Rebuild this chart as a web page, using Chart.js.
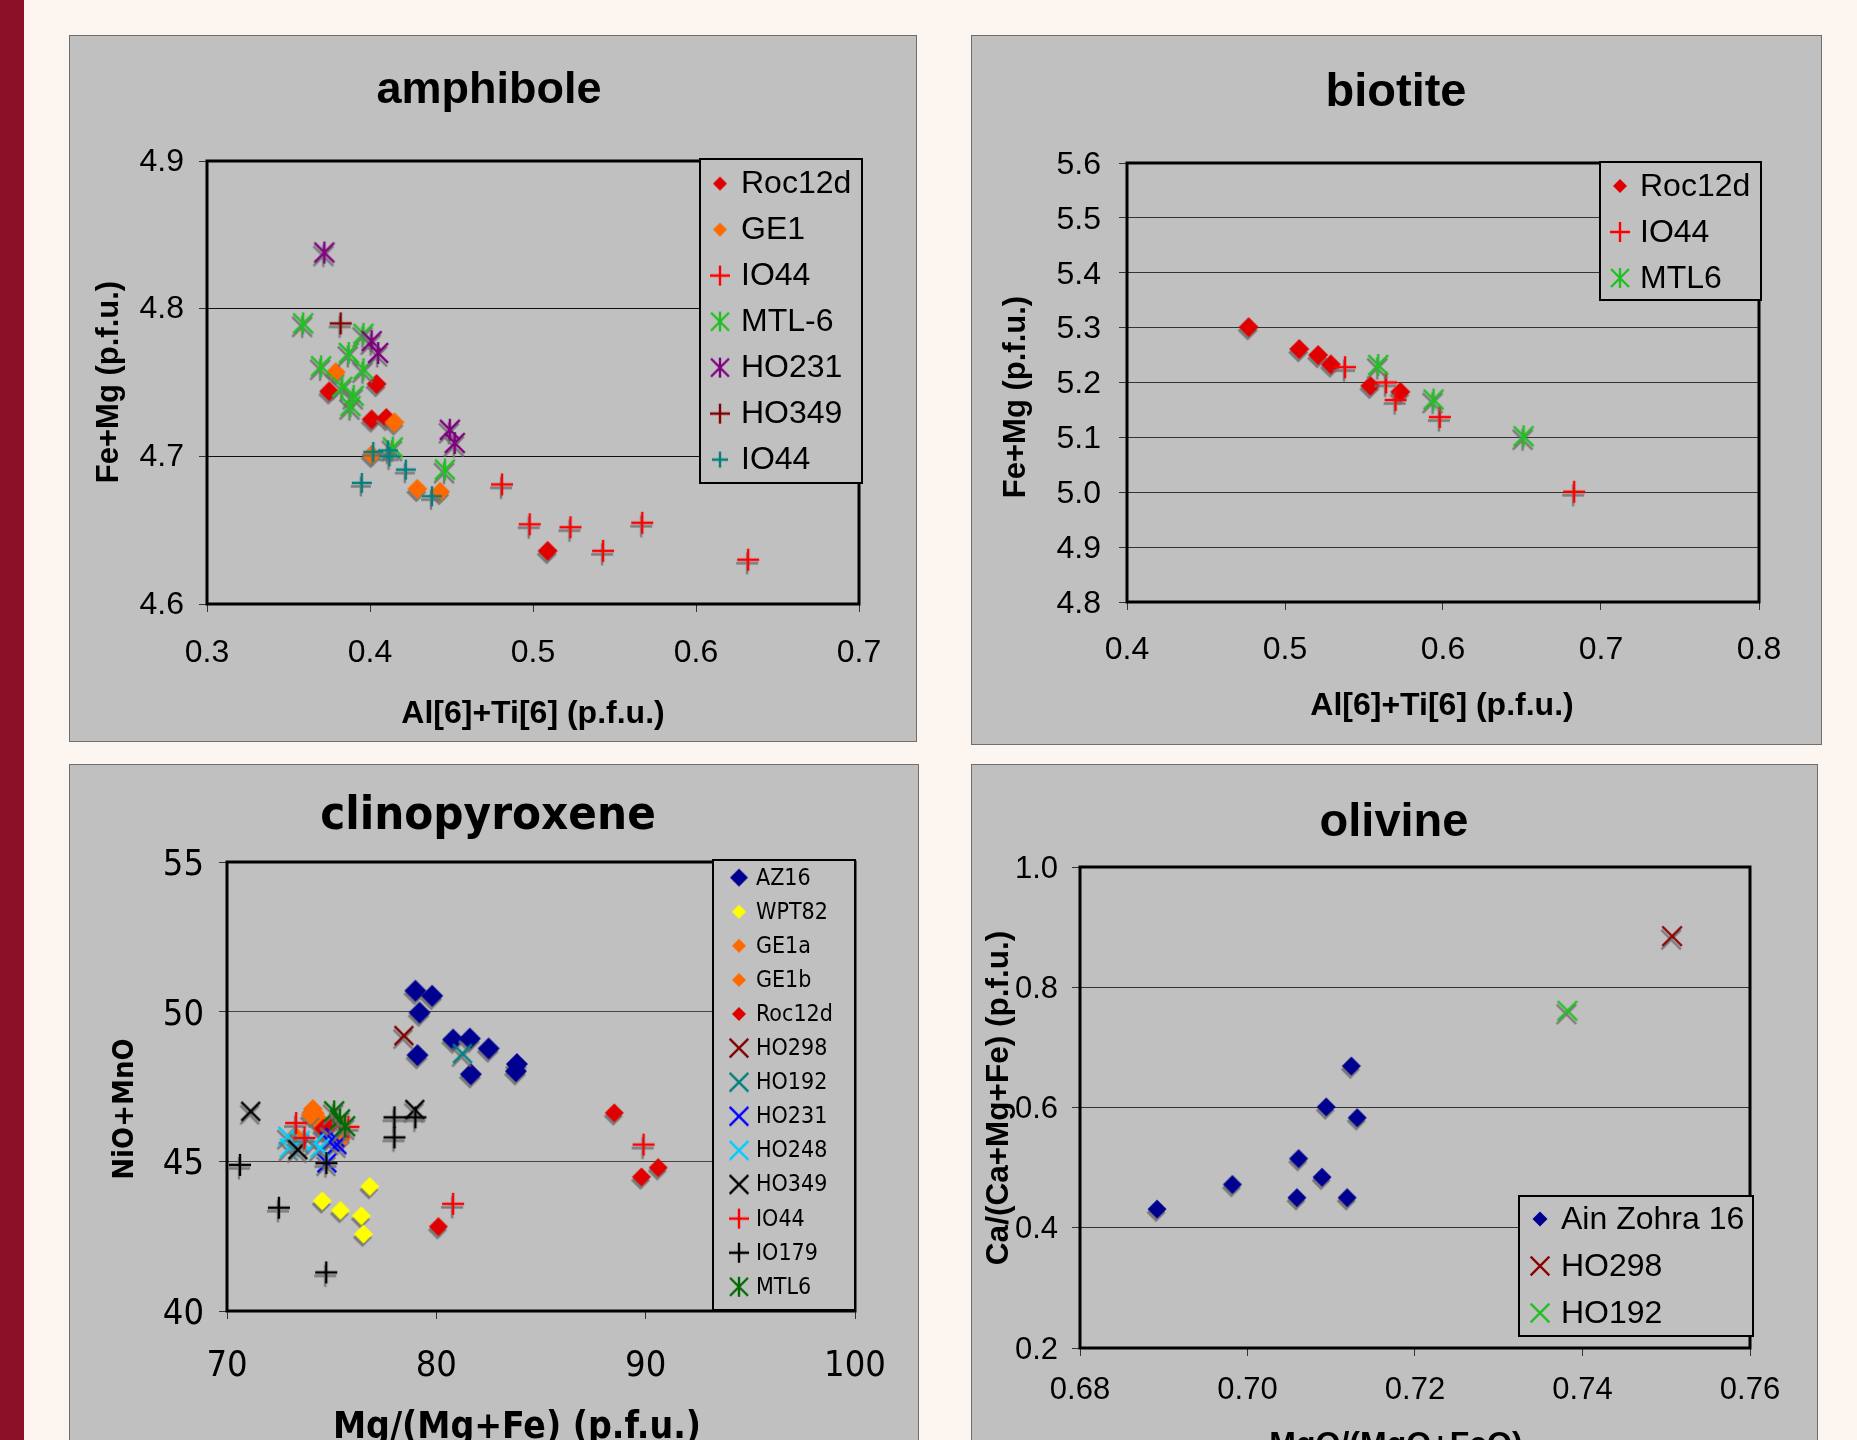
<!DOCTYPE html>
<html><head><meta charset="utf-8">
<script src="https://cdn.jsdelivr.net/npm/chart.js@4.4.1/dist/chart.umd.min.js"></script>
<style>
html,body{margin:0;padding:0;width:1857px;height:1440px;overflow:hidden;background:#fdf6f0;}
#bar{position:absolute;left:0;top:0;width:24px;height:1440px;background:#8b1028;}
.panel{position:absolute;background:#c0c0c0;outline:1px solid #6e6e6e;}
.panel canvas{position:absolute;left:0;top:0;}
</style></head><body>
<div id="bar"></div>
<div class="panel" style="left:70px;top:36px;width:846px;height:705px"><canvas id="cAmph" width="846" height="705"></canvas></div>
<div class="panel" style="left:972px;top:36px;width:849px;height:708px"><canvas id="cBio" width="849" height="708"></canvas></div>
<div class="panel" style="left:70px;top:765px;width:848px;height:700px"><canvas id="cCpx" width="848" height="700"></canvas></div>
<div class="panel" style="left:972px;top:765px;width:845px;height:700px"><canvas id="cOl" width="845" height="700"></canvas></div>
<script>
// ---------------- DATA ----------------
// amphibole: [Al[6]+Ti[6], Fe+Mg]
const amph_Roc12d = [[0.375,4.744],[0.404,4.749],[0.401,4.725],[0.410,4.726],[0.509,4.636]];
const amph_GE1    = [[0.379,4.757],[0.415,4.723],[0.401,4.701],[0.429,4.678],[0.443,4.676]];
const amph_IO44   = [[0.481,4.681],[0.498,4.654],[0.523,4.652],[0.543,4.636],[0.567,4.655],[0.632,4.630]];
const amph_MTL6   = [[0.359,4.790],[0.396,4.783],[0.387,4.770],[0.370,4.761],[0.396,4.759],[0.383,4.747],[0.390,4.741],[0.388,4.734],[0.414,4.706],[0.446,4.691]];
const amph_HO231  = [[0.372,4.838],[0.401,4.778],[0.405,4.770],[0.449,4.718],[0.452,4.709]];
const amph_HO349  = [[0.382,4.790]];
const amph_IO44b  = [[0.395,4.682],[0.402,4.703],[0.411,4.704],[0.412,4.700],[0.422,4.691],[0.438,4.673]];
const amphXTicks = [0.3,0.4,0.5,0.6,0.7];
const amphYTicks = [4.6,4.7,4.8,4.9];

// biotite: [Al[6]+Ti[6], Fe+Mg]
const bio_Roc12d = [[0.477,5.301],[0.509,5.261],[0.521,5.250],[0.529,5.233],[0.554,5.194],[0.573,5.183]];
const bio_IO44   = [[0.538,5.228],[0.564,5.200],[0.570,5.168],[0.598,5.137],[0.683,5.001]];
const bio_MTL6   = [[0.559,5.232],[0.594,5.169],[0.651,5.102]];
const bioXTicks = [0.4,0.5,0.6,0.7,0.8];
const bioYTicks = [4.8,4.9,5.0,5.1,5.2,5.3,5.4,5.5,5.6];

// clinopyroxene: [Mg/(Mg+Fe), NiO+MnO]
const cpx_AZ16   = [[79.0,50.70],[79.8,50.53],[79.2,49.97],[79.1,48.55],[80.8,49.07],[81.6,49.10],[82.5,48.77],[81.65,47.91],[83.85,48.25],[83.8,48.01]];
const cpx_WPT82  = [[74.55,43.68],[75.42,43.36],[76.82,44.16],[76.42,43.18],[76.52,42.57]];
const cpx_GE1a   = [[74.1,46.75],[74.2,46.60],[74.35,46.42],[74.5,46.25]];
const cpx_GE1b   = [[74.0,46.55],[74.6,46.05],[75.45,45.75],[73.25,45.85]];
const cpx_Roc12d = [[88.5,46.62],[89.8,44.48],[90.6,44.79],[80.1,42.82],[74.6,46.10],[74.9,46.20]];
const cpx_HO298  = [[78.45,49.20]];
const cpx_HO192  = [[81.25,48.60]];
const cpx_HO231  = [[74.77,44.95],[75.15,45.80],[75.25,45.56],[74.9,45.65]];
const cpx_HO248  = [[72.9,45.84],[72.98,45.45],[74.19,45.61],[74.45,45.45],[73.5,45.70]];
const cpx_HO349  = [[71.13,46.67],[73.38,45.39],[78.97,46.73]];
const cpx_IO44   = [[89.9,45.56],[80.8,43.58],[73.3,46.28],[73.7,45.78],[75.8,46.15]];
const cpx_IO179  = [[70.62,44.88],[72.48,43.45],[74.74,41.29],[78.0,46.47],[78.0,45.80],[79.0,46.47],[74.75,44.94]];
const cpx_MTL6   = [[75.12,46.67],[75.40,46.40],[75.64,46.17]];
const cpxXTicks = [70,80,90,100];
const cpxYTicks = [40,45,50,55];

// olivine: [MgO/(MgO+FeO), Ca/(Ca+Mg+Fe)]
const ol_AinZohra16 = [[0.6892,0.431],[0.6982,0.472],[0.7061,0.515],[0.7059,0.450],[0.7089,0.484],[0.7094,0.601],[0.7124,0.669],[0.7131,0.583],[0.7119,0.450]];
const ol_HO298 = [[0.7507,0.885]];
const ol_HO192 = [[0.7382,0.761]];
const olXTicks = [0.68,0.70,0.72,0.74,0.76];
const olYTicks = [0.2,0.4,0.6,0.8,1.0];

// ---------------- MARKERS ----------------
function drawShape(ctx, shape, x, y, r, lw, col) {
  ctx.save();
  ctx.fillStyle = col; ctx.strokeStyle = col; ctx.lineWidth = lw; ctx.lineCap = 'butt';
  ctx.beginPath();
  if (shape === 'diamond') {
    ctx.moveTo(x, y - r); ctx.lineTo(x + r, y); ctx.lineTo(x, y + r); ctx.lineTo(x - r, y); ctx.closePath(); ctx.fill();
  } else if (shape === 'plus') {
    ctx.moveTo(x - r, y); ctx.lineTo(x + r, y); ctx.moveTo(x, y - r); ctx.lineTo(x, y + r); ctx.stroke();
  } else if (shape === 'x') {
    const d = r * 0.85;
    ctx.moveTo(x - d, y - d); ctx.lineTo(x + d, y + d); ctx.moveTo(x + d, y - d); ctx.lineTo(x - d, y + d); ctx.stroke();
  } else if (shape === 'star') {
    const d = r * 0.9;
    ctx.moveTo(x - d, y - d); ctx.lineTo(x + d, y + d); ctx.moveTo(x + d, y - d); ctx.lineTo(x - d, y + d);
    ctx.moveTo(x, y - r); ctx.lineTo(x, y + r); ctx.stroke();
  }
  ctx.restore();
}
function marker(shape, color, r, lw, shadow) {
  const size = 2 * Math.ceil(r + 7);
  const c = document.createElement('canvas');
  c.width = size; c.height = size;
  const ctx = c.getContext('2d');
  const m = size / 2;
  if (shadow) drawShape(ctx, shape, m - 1, m + 3.5, r, lw, 'rgba(110,110,110,0.85)');
  drawShape(ctx, shape, m, m, r, lw, color);
  return c;
}

// ---------------- PLUGIN: frame, legend box, titles ----------------
const decor = {
  id: 'decor',
  beforeDatasetsDraw(chart, args, o) {
    const a = chart.chartArea, ctx = chart.ctx;
    ctx.save();
    ctx.strokeStyle = '#000'; ctx.lineWidth = o.frameWidth;
    ctx.strokeRect(a.left, a.top, a.right - a.left, a.bottom - a.top);
    ctx.restore();
  },
  afterDatasetsDraw(chart, args, o) {
    const ctx = chart.ctx, L = o.legend;
    ctx.save();
    ctx.fillStyle = '#c0c0c0'; ctx.strokeStyle = '#000'; ctx.lineWidth = 2;
    ctx.fillRect(L.x, L.y, L.w, L.h); ctx.strokeRect(L.x, L.y, L.w, L.h);
    ctx.font = L.font; ctx.fillStyle = '#000'; ctx.textBaseline = 'middle'; ctx.textAlign = 'left';
    chart.data.datasets.forEach((ds, i) => {
      const y = L.y0 + i * L.dy;
      const img = ds.legendImage;
      ctx.drawImage(img, L.mx - img.width / 2, y - img.height / 2);
      ctx.fillText(ds.label, L.tx, y + 1);
    });
    ctx.restore();
  },
  afterDraw(chart, args, o) {
    const ctx = chart.ctx;
    ctx.save();
    ctx.fillStyle = '#000'; ctx.textAlign = 'center'; ctx.textBaseline = 'middle';
    ctx.font = o.titleFont;
    ctx.fillText(o.title, o.titleX, o.titleY);
    ctx.font = o.xTitleFont;
    ctx.fillText(o.xTitle, o.xTitleX, o.xTitleY);
    ctx.translate(o.yTitleX, o.yTitleY);
    ctx.rotate(-Math.PI / 2);
    ctx.font = o.yTitleFont;
    ctx.fillText(o.yTitle, 0, 0);
    ctx.restore();
  }
};

const FA = "'Liberation Sans', Arial, sans-serif";
const FV = "'DejaVu Sans Condensed', 'DejaVu Sans', Verdana, sans-serif";

function makeChart(id, c) {
  const datasets = c.series.map((s, i) => ({
    label: s.label,
    data: s.data.map(p => ({x: p[0], y: p[1]})),
    pointStyle: marker(s.shape, s.color, s.r, s.lw || 2.4, true),
    legendImage: marker(s.shape, s.color, s.lr || s.r * 0.8, s.lw || 2.4, false),
    pointRadius: 6, pointHoverRadius: 6,
    showLine: false, clip: false,
    order: -i
  }));
  const tickFont = {family: c.family, size: c.tickSize};
  return new Chart(document.getElementById(id), {
    type: 'scatter',
    data: {datasets},
    plugins: [decor],
    options: {
      responsive: false, animation: false, events: [],
      layout: {padding: {left: 0, top: c.area.top, right: c.area.right, bottom: 0}},
      plugins: {
        legend: {display: false}, tooltip: {enabled: false}, title: {display: false},
        decor: {frameWidth: 3, legend: c.legend, title: c.title,
                titleFont: 'bold ' + c.titleSize + 'px ' + c.family, titleX: c.titleX, titleY: c.titleY,
                xTitle: c.x.title, xTitleFont: 'bold ' + c.x.tsize + 'px ' + c.family, xTitleX: c.x.tx, xTitleY: c.x.ty,
                yTitle: c.y.title, yTitleFont: 'bold ' + c.y.tsize + 'px ' + c.family, yTitleX: c.y.tx, yTitleY: c.y.ty}
      },
      scales: {
        x: {
          type: 'linear', position: 'bottom', min: c.x.ticks[0], max: c.x.ticks[c.x.ticks.length - 1],
          afterBuildTicks: s => { s.ticks = c.x.ticks.map(v => ({value: v})); },
          afterFit: s => { s.height = c.area.bottom; },
          ticks: {font: tickFont, color: '#000', padding: c.x.pad, maxRotation: 0, autoSkip: false,
                  callback: v => Number(v).toFixed(c.x.dec)},
          grid: {drawOnChartArea: false, drawTicks: true, tickLength: 8, tickColor: '#333', color: '#333'},
          border: {display: false},
          title: {display: false}
        },
        y: {
          type: 'linear', position: 'left', min: c.y.ticks[0], max: c.y.ticks[c.y.ticks.length - 1],
          afterBuildTicks: s => { s.ticks = c.y.ticks.map(v => ({value: v})); },
          afterFit: s => { s.width = c.area.left; },
          ticks: {font: tickFont, color: '#000', padding: c.y.pad, autoSkip: false, labelOffset: c.y.lo,
                  callback: v => Number(v).toFixed(c.y.dec)},
          grid: {drawOnChartArea: true, drawTicks: true, tickLength: 8, tickColor: '#333', color: c.gridColor, lineWidth: 1},
          border: {display: false},
          title: {display: false}
        }
      }
    }
  });
}

// amphibole
makeChart('cAmph', {
  family: FA, tickSize: 32, titleSize: 45, gridColor: '#111',
  title: 'amphibole', titleX: 419, titleY: 55,
  area: {left: 137, top: 125, right: 57, bottom: 137},
  x: {ticks: amphXTicks, dec: 1, pad: 22, title: 'Al[6]+Ti[6] (p.f.u.)', tsize: 32, tx: 463, ty: 678},
  y: {ticks: amphYTicks, dec: 1, pad: 15, lo: 1, title: 'Fe+Mg (p.f.u.)', tsize: 31, tx: 39, ty: 346},
  legend: {x: 630, y: 123, w: 162, h: 324, y0: 147.6, dy: 46, mx: 650, tx: 671, font: '32px ' + FA},
  series: [
    {label: 'Roc12d', data: amph_Roc12d, shape: 'diamond', color: '#e00000', r: 10, lr: 7},
    {label: 'GE1', data: amph_GE1, shape: 'diamond', color: '#ff6a00', r: 10, lr: 7},
    {label: 'IO44', data: amph_IO44, shape: 'plus', color: '#ff0000', r: 11, lr: 10},
    {label: 'MTL-6', data: amph_MTL6, shape: 'star', color: '#22c022', r: 11, lr: 10},
    {label: 'HO231', data: amph_HO231, shape: 'star', color: '#800080', r: 11, lr: 10},
    {label: 'HO349', data: amph_HO349, shape: 'plus', color: '#800000', r: 11, lr: 10},
    {label: 'IO44', data: amph_IO44b, shape: 'plus', color: '#008080', r: 10, lr: 8}
  ]
});

// biotite
makeChart('cBio', {
  family: FA, tickSize: 32, titleSize: 47, gridColor: '#333',
  title: 'biotite', titleX: 424, titleY: 57.5,
  area: {left: 155, top: 127, right: 62, bottom: 142},
  x: {ticks: bioXTicks, dec: 1, pad: 21, title: 'Al[6]+Ti[6] (p.f.u.)', tsize: 32, tx: 470, ty: 670},
  y: {ticks: bioYTicks, dec: 1, pad: 18, lo: 2, title: 'Fe+Mg (p.f.u.)', tsize: 31, tx: 44, ty: 361},
  legend: {x: 628, y: 126, w: 161, h: 138, y0: 150, dy: 46, mx: 648, tx: 668, font: '32px ' + FA},
  series: [
    {label: 'Roc12d', data: bio_Roc12d, shape: 'diamond', color: '#e00000', r: 10, lr: 7},
    {label: 'IO44', data: bio_IO44, shape: 'plus', color: '#ff0000', r: 11, lr: 10},
    {label: 'MTL6', data: bio_MTL6, shape: 'star', color: '#22c022', r: 11, lr: 10}
  ]
});

// clinopyroxene
makeChart('cCpx', {
  family: FV, tickSize: 36, titleSize: 47, gridColor: '#444',
  title: 'clinopyroxene', titleX: 418, titleY: 52,
  area: {left: 157, top: 97, right: 63, bottom: 154},
  x: {ticks: cpxXTicks, dec: 0, pad: 26, title: 'Mg/(Mg+Fe) (p.f.u.)', tsize: 37, tx: 447, ty: 663},
  y: {ticks: cpxYTicks, dec: 0, pad: 15, lo: 3.5, title: 'NiO+MnO', tsize: 29, tx: 55, ty: 344},
  legend: {x: 643, y: 95, w: 142, h: 450, y0: 112.6, dy: 34.1, mx: 669, tx: 686, font: '23px ' + FV},
  series: [
    {label: 'AZ16', data: cpx_AZ16, shape: 'diamond', color: '#000090', r: 11, lr: 9},
    {label: 'WPT82', data: cpx_WPT82, shape: 'diamond', color: '#ffff00', r: 9.5, lr: 7},
    {label: 'GE1a', data: cpx_GE1a, shape: 'diamond', color: '#ff6a00', r: 10, lr: 7},
    {label: 'GE1b', data: cpx_GE1b, shape: 'diamond', color: '#ff6a00', r: 10, lr: 7},
    {label: 'Roc12d', data: cpx_Roc12d, shape: 'diamond', color: '#e00000', r: 9.5, lr: 7},
    {label: 'HO298', data: cpx_HO298, shape: 'x', color: '#800000', r: 11, lr: 11},
    {label: 'HO192', data: cpx_HO192, shape: 'x', color: '#008080', r: 11, lr: 11},
    {label: 'HO231', data: cpx_HO231, shape: 'x', color: '#0000ff', r: 11, lr: 11},
    {label: 'HO248', data: cpx_HO248, shape: 'x', color: '#00ccff', r: 11, lr: 11},
    {label: 'HO349', data: cpx_HO349, shape: 'x', color: '#000000', r: 11, lr: 11},
    {label: 'IO44', data: cpx_IO44, shape: 'plus', color: '#ff0000', r: 11, lr: 10},
    {label: 'IO179', data: cpx_IO179, shape: 'plus', color: '#000000', r: 11, lr: 10},
    {label: 'MTL6', data: cpx_MTL6, shape: 'star', color: '#006a00', r: 11, lr: 10}
  ]
});

// olivine
makeChart('cOl', {
  family: FA, tickSize: 31, titleSize: 47, gridColor: '#333',
  title: 'olivine', titleX: 422, titleY: 58.5,
  area: {left: 108, top: 102, right: 67, bottom: 117},
  x: {ticks: olXTicks, dec: 2, pad: 16, title: 'MgO/(MgO+FeO)', tsize: 32, tx: 424, ty: 680},
  y: {ticks: olYTicks, dec: 1, pad: 14, lo: 2, title: 'Ca/(Ca+Mg+Fe) (p.f.u.)', tsize: 31.5, tx: 27, ty: 333},
  legend: {x: 547, y: 431, w: 234, h: 140, y0: 454, dy: 47, mx: 568, tx: 589, font: '32px ' + FA},
  series: [
    {label: 'Ain Zohra 16', data: ol_AinZohra16, shape: 'diamond', color: '#000090', r: 9.5, lr: 7.5},
    {label: 'HO298', data: ol_HO298, shape: 'x', color: '#900000', r: 11.5, lr: 11},
    {label: 'HO192', data: ol_HO192, shape: 'x', color: '#22c022', r: 11.5, lr: 11}
  ]
});
</script>
</body></html>
